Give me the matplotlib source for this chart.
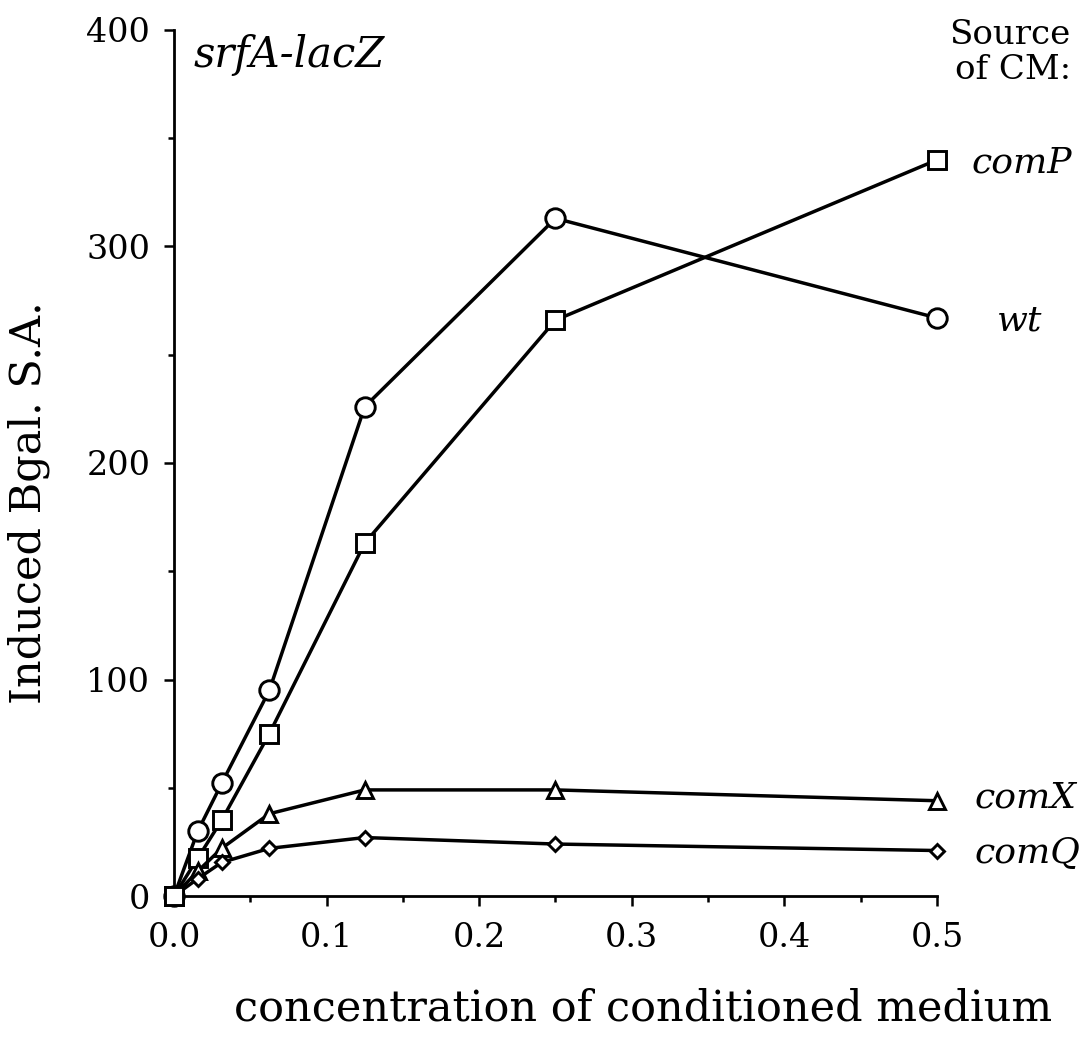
import matplotlib
matplotlib.use("Agg")
import matplotlib.pyplot as plt
from matplotlib.ticker import MultipleLocator, FormatStrFormatter

# Dilutions of conditioned medium (fraction of final volume)
conc = [0.0, 1/64, 1/32, 1/16, 1/8, 1/4, 1/2]

# Induced beta-galactosidase specific activity, by source of conditioned medium
wt = [0, 30, 52, 95, 226, 313, 267]
comP = [0, 17.5, 35, 75, 163, 266, 340]
comX = [0, 11.5, 22, 38, 49, 49, 44]
comQ = [0, 8, 15.5, 22, 27, 24, 21]

series = [
    ("wt", wt, "o", 14, (43, -2)),
    ("comP", comP, "s", 12.5, (25, -2)),
    ("comX", comX, "^", 12, (27, 2)),
    ("comQ", comQ, "D", 7.5, (27, -2)),
]

plt.rcParams["font.family"] = ["DejaVu Serif"]

fig = plt.figure(figsize=(10.84, 10.38), dpi=100)
ax = fig.add_axes([0.1605, 0.1368, 0.7039, 0.8343])

for name, vals, mk, ms, off in series:
    ax.plot(conc, vals, color="black", lw=2.5, marker=mk, ms=ms,
            mfc="white", mec="black", mew=2.1, clip_on=False, zorder=3)
    ax.annotate(name, xy=(conc[-1], vals[-1]), xytext=off,
                textcoords="offset points", ha="left", va="center",
                fontsize=26, style="italic", annotation_clip=False)

# origin point drawn last so the square sits on top
ax.plot([conc[0]], [comP[0]], ls="none", marker="s", ms=12.5, mfc="white",
        mec="black", mew=2.1, clip_on=False, zorder=5)

ax.set_xlim(0, 0.5)
ax.set_ylim(0, 400)
ax.xaxis.set_major_locator(MultipleLocator(0.1))
ax.xaxis.set_minor_locator(MultipleLocator(0.05))
ax.yaxis.set_major_locator(MultipleLocator(100))
ax.yaxis.set_minor_locator(MultipleLocator(50))
ax.xaxis.set_major_formatter(FormatStrFormatter("%.1f"))

for s in ("top", "right"):
    ax.spines[s].set_visible(False)
for s in ("left", "bottom"):
    ax.spines[s].set_linewidth(2.0)

ax.tick_params(which="major", direction="out", length=7, width=1.8,
               labelsize=24)
ax.tick_params(axis="x", which="major", pad=12)
ax.tick_params(axis="y", which="major", pad=10)
ax.tick_params(which="minor", direction="out", length=4.5, width=1.8)

ax.set_xlabel("concentration of conditioned medium", fontsize=31)
ax.set_ylabel("Induced Bgal. S.A.", fontsize=31)
ax.xaxis.set_label_coords(0.615, -0.106)
ax.yaxis.set_label_coords(-0.163, 0.454)

ax.text(0.025, 0.995, "srfA-lacZ", transform=ax.transAxes, fontsize=30,
        style="italic", ha="left", va="top")
fig.text(0.988, 0.982, "Source\nof CM:", fontsize=24.5, ha="right", va="top",
         linespacing=1.15)

fig.savefig("out.png", dpi=100)
